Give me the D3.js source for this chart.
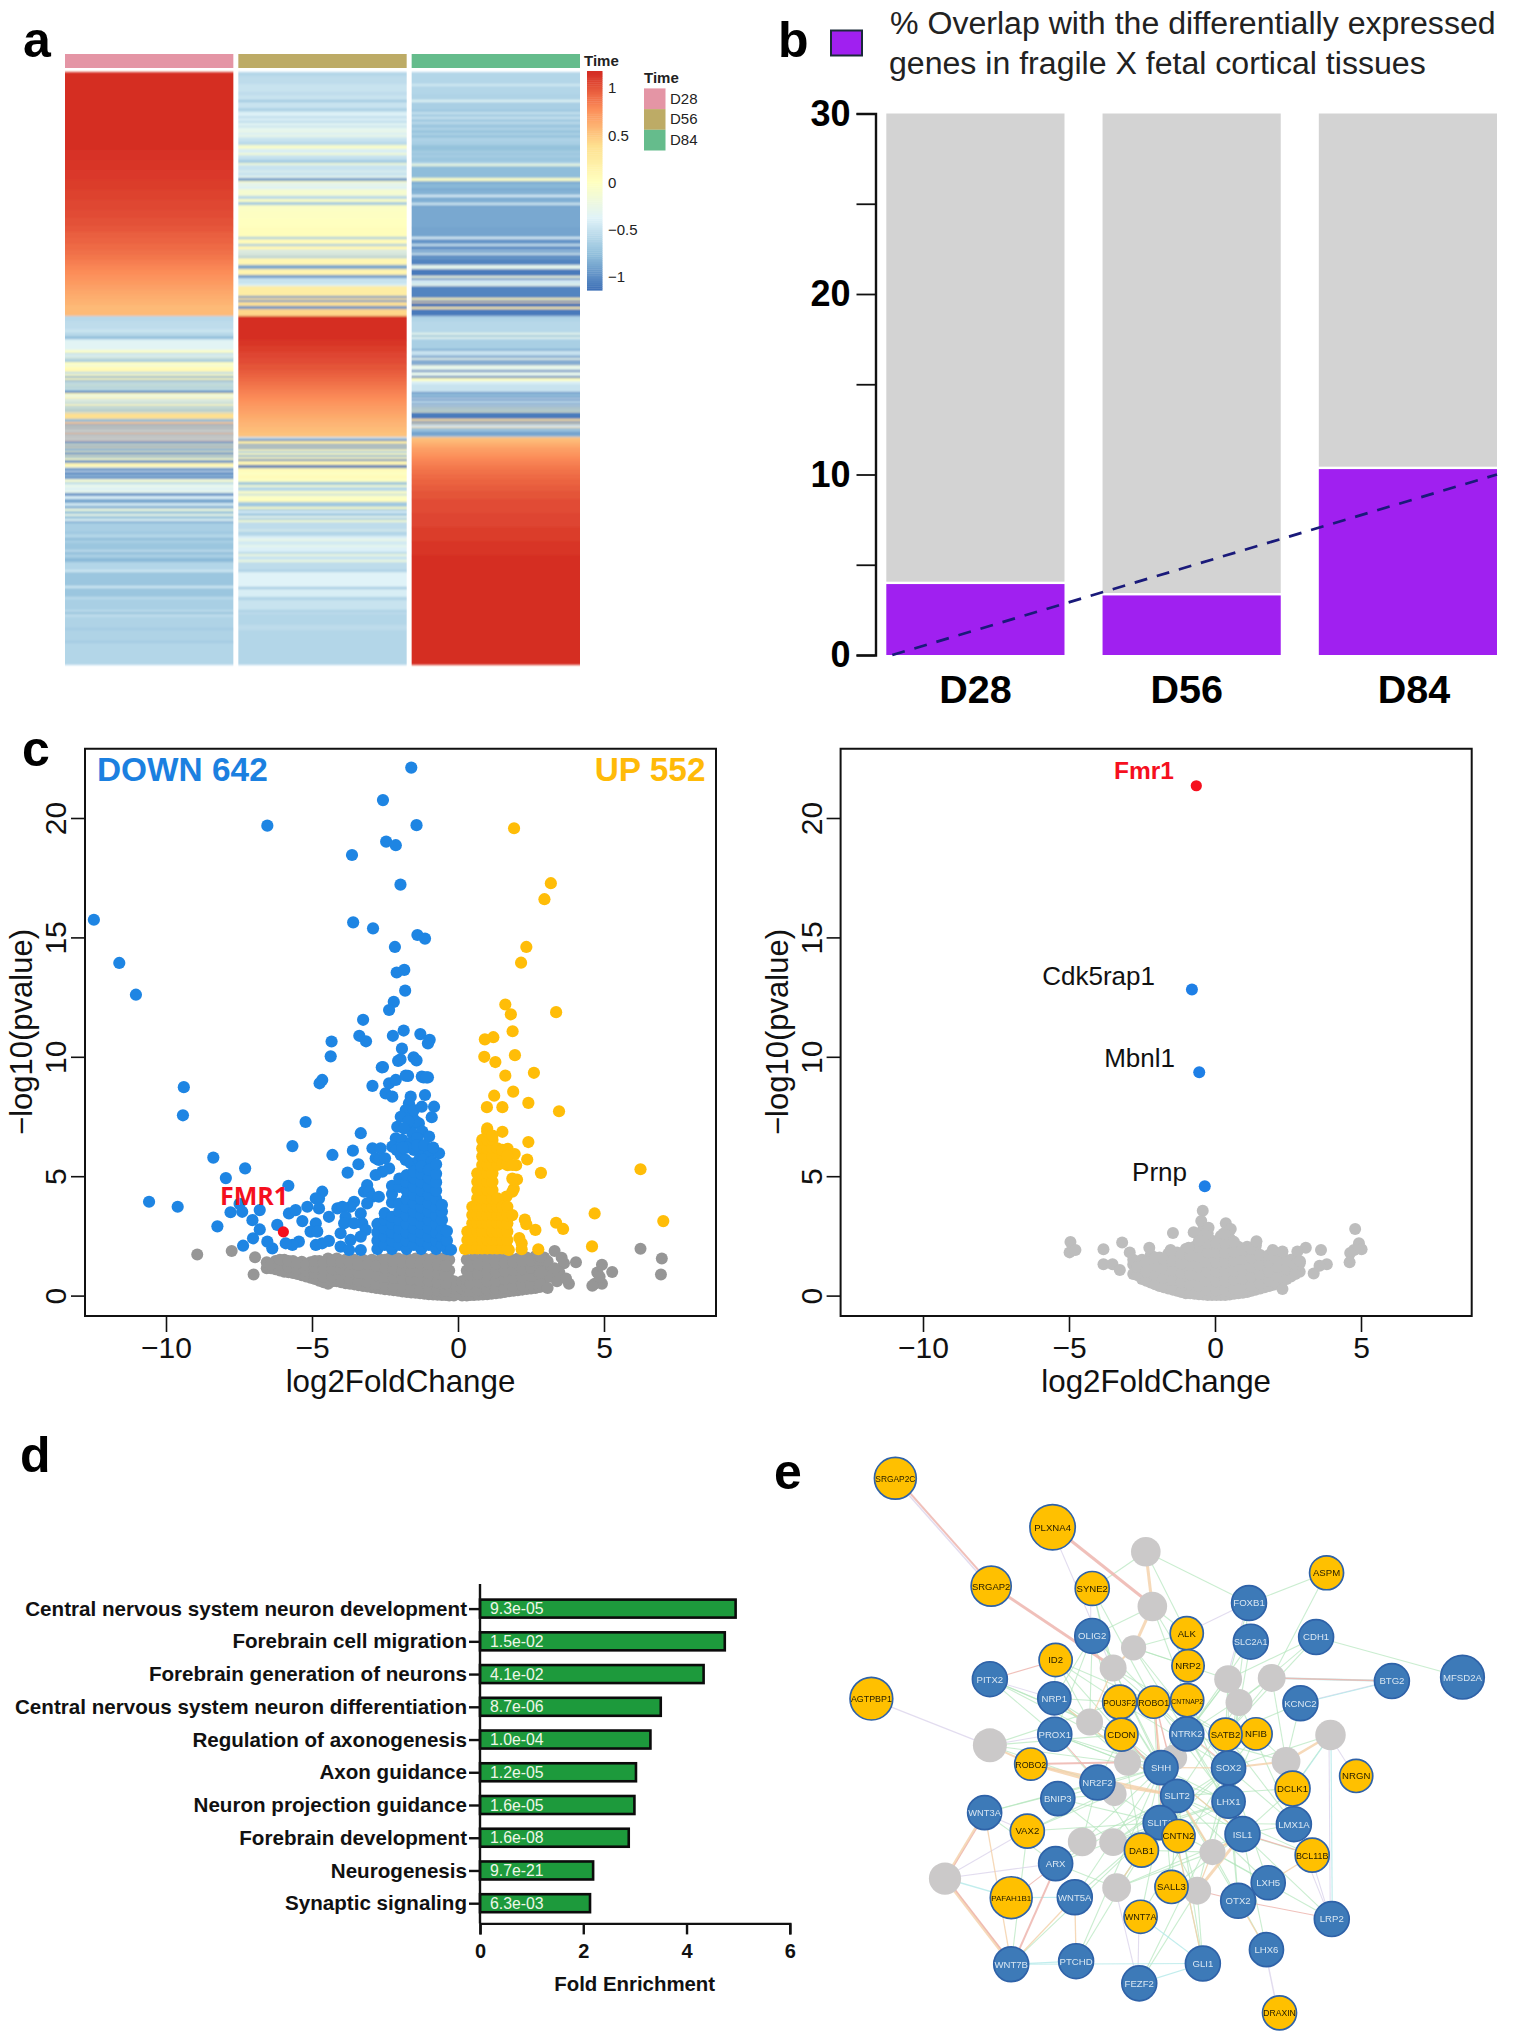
<!DOCTYPE html>
<html><head><meta charset="utf-8">
<script src="https://cdn.jsdelivr.net/npm/d3@7"></script>
<style>
html,body{margin:0;padding:0;background:#fff}
svg{display:block}
text{font-family:"Liberation Sans",Arial,sans-serif}
</style></head><body>
<svg id="fig" width="1513" height="2040" viewBox="0 0 1513 2040"></svg>
<script>
// ---------- panel a : heat map, runs of [z-score, number of rows] ----------
const times = ["D28","D56","D84"];
const timeColors = ["#e495a5","#bdab66","#65bc8c"];
const heatTicks = [1,0.5,0,-0.5,-1];
const heatRowsTotal = 593;
const clusterStarts = [0,244,365];
const d28A = [[1.15,78],[1.135,10],[1.12,10],[1.105,10],[1.09,10],[1.07,10],[1.05,10],[1.03,8],[1.01,8],[.985,6],[.96,6],[.935,6],[.91,6],[.885,5],[.86,5],[.83,5],[.8,5],[.77,5],[.74,5],[.71,5],[.68,5],[.65,5],[.62,5],[.59,5],[.56,11]];
const d28B = [[-.58,5],[-.55,8],[-.5,4],[-.62,2],[-.5,1],[-.78,3],[-.45,1],[-.35,10],[-.05,3],[-.55,2],[-.3,2],[-.7,1],[-.15,1],[-.7,3],[0,3],[-.3,1],[.03,3],[.1,3],[-.6,2],[.05,2],[-.85,2],[.05,2],[-.85,2],[-.2,1],[-.7,2],[-.1,1],[-.75,2],[-.2,1],[-.7,2],[-1.1,2],[.05,2],[-.3,2],[.1,2],[-.5,2],[.1,1],[-.6,2],[.1,2],[-.7,2],[.05,1],[-.8,2],[.15,1],[-.7,1],[.38,6],[-.8,3],[.5,2],[-.9,2],[.4,1],[-.85,2],[.45,1],[-.7,2],[.5,1],[-.9,1],[.5,1],[-.75,1]];
const d28C = [[.5,1],[-.7,2],[.5,1],[-.95,3],[.1,1],[-.9,2],[.3,1],[-.85,3],[.1,1],[-.95,3],[.1,1],[-.85,2],[0,2],[-1,3],[.1,4],[-.3,1],[-1,3],[-.4,1],[-1.05,3],[-.6,1],[-1,3],[-.3,1],[-.05,2],[-.6,2],[-.3,4],[-.4,2],[-.3,3],[-1,3],[-.4,3],[-.9,4],[-.45,3],[-.9,2],[-.6,1],[-.15,2],[-.75,3],[-.25,2],[-.75,3],[-.35,2],[-.85,2],[-.65,9],[-.72,2],[-.6,4],[-.8,2],[-.65,3],[-.72,7],[-.55,2],[-.8,2],[-.65,4],[-.8,4],[-.6,8],[-.45,2],[-.72,14],[-.45,2],[-.72,9],[-.55,2],[-.65,11],[-.55,2],[-.75,2],[-.55,3],[-.62,11],[-.68,2],[-.62,11],[-.68,2],[-.6,22]];
const d56A = [[-.6,4],[-.55,8],[-.5,8],[-.55,3],[-.5,5],[-.72,2],[-.5,6],[-.58,1],[-.67,2],[-.45,2],[-.38,3],[-.55,2],[-.42,3],[-.55,2],[-.35,3],[-.6,1],[-.33,3],[-.28,3],[-.42,2],[-.25,2],[-.45,1],[-.5,4],[-.58,3],[-.08,4],[-.42,4],[-.12,2],[-.5,4],[-.6,2],[-.72,2],[-.15,2],[-.5,6],[-.3,1],[-.5,4],[-.3,2],[-.95,3],[-.05,2],[-.4,2],[-.1,1],[-.4,3],[-.12,7],[-.6,3],[-.02,3],[-.7,3],[-.04,6],[-.02,8],[0,8],[.03,10],[-.7,2],[.05,5],[-.7,2],[.08,4],[-.5,2],[.06,1],[-.55,2],[.1,1],[-.7,2],[.1,7],[-.9,4],[.13,6],[-.95,3],[-.5,6],[-.4,2],[.22,10],[-1,2],[.32,2],[-1,2],[.35,3],[.38,1],[-1,3],[.42,7]];
const d56B = [[1.15,24],[1.12,6],[1.09,6],[1.06,6],[1.03,6],[1,6],[.97,4],[.94,4],[.91,4],[.88,4],[.85,4],[.82,4],[.79,4],[.76,4],[.73,4],[.7,4],[.67,4],[.64,4],[.61,4],[.58,5],[.55,5],[.52,5]];
const d56C = [[-.5,2],[-1.05,2],[.2,3],[-.95,2],[.15,1],[-.95,2],[.1,2],[-.7,2],[.05,2],[-.85,2],[.05,2],[-1.05,2],[.1,4],[-1.15,3],[.05,4],[-.02,3],[.05,4],[-.02,3],[-.75,3],[-.1,2],[-.6,4],[-.05,3],[-.7,1],[-.1,2],[-.02,3],[.03,2],[-.7,5],[0,2],[-.7,2],[-.4,2],[-.7,3],[-.3,2],[-.7,2],[-.1,2],[-.55,8],[-.3,1],[-.6,5],[-.4,3],[-.25,2],[-.45,4],[-.3,2],[-.4,5],[-.6,2],[-.2,2],[-.5,4],[-.2,2],[-.55,8],[-.65,2],[-.38,15],[-.72,2],[-.42,8],[-.62,3],[-.5,10],[-.65,2],[-.55,2],[-.6,11],[-.55,5],[-.6,35]];
const d84A = [[-.6,12],[-.45,2],[-.6,8],[-.62,6],[-.35,2],[-.65,8],[-.72,2],[-.5,2],[-.67,3],[-.5,2],[-.7,3],[-.55,2],[-.72,4],[-.6,2],[-.74,3],[-.62,2],[-.74,3],[-.6,2],[-.65,5],[-.75,6],[-.65,2],[-.74,2],[-.65,2],[-.72,5],[-.6,2],[-.2,2],[-.78,12],[-.02,3],[-.86,3],[-.8,4],[-.86,3],[-.82,4],[-.4,2],[-.86,3],[-.84,3],[-.45,2],[-.9,2],[-.88,20],[-.9,10],[-.4,2],[-.97,5],[-.5,2],[-1,4],[-.6,1],[-.95,2],[-.5,2],[-1.05,2],[-.95,2],[-1.05,6],[-.3,4],[-1.1,7],[-.2,2],[-1.05,2],[-.4,2],[-.5,2],[-.3,2],[-1.05,12],[.1,2],[-1.1,2],[.3,1],[-1.15,4],[.2,2],[-1.1,7]];
const d84B = [[-.62,5],[-.58,12],[-.3,2],[-.75,2],[-.25,1],[-.4,1],[-.65,10],[-.85,2],[-.45,2],[-.55,3],[-.95,2],[-.3,2],[-1,2],[-.6,1],[-1,2],[-.25,2],[-.3,3],[-1.05,2],[-.3,4],[-1.1,2],[0,3],[-.4,3],[-.5,8],[-1,2],[-.7,2],[-.95,2],[-.4,1],[-1,2],[-.5,2],[-.95,2],[-.3,1],[-.95,2],[-.1,1],[-.9,2],[0,1],[-.95,1],[-1.1,6],[.35,2],[-1.05,2],[.2,1],[-1.1,1],[-.4,2],[.4,1],[-.8,2],[-.6,1],[-.9,5],[-.7,1]];
const d84C = [[.52,2],[.55,2],[.58,2],[.61,2],[.64,2],[.67,2],[.7,3],[.73,3],[.76,3],[.79,3],[.82,4],[.85,4],[.88,5],[.91,5],[.94,6],[.97,6],[1,8],[1.03,14],[1.06,14],[1.09,14],[1.12,14],[1.15,110]];
const heatColumns = [[d28A,d28B,d28C],[d56A,d56B,d56C],[d84A,d84B,d84C]];

// ---------- panel b ----------
const overlapDays = ["D28","D56","D84"];
const overlapPct = [3.93,3.3,10.3];
const overlapTotal = 30;
const overlapTrend = [0,10];

// ---------- panel c, left volcano (log2FC, -log10 p) ----------
const downPoints = [[-1.6,22.11],[-2.57,20.75],[-6.53,19.68],[-1.42,19.7],[-2.46,19.01],[-2.13,18.86],[-3.63,18.45],[-1.97,17.21],[-12.47,15.74],[-3.59,15.63],[-2.91,15.38],[-1.39,15.1],[-1.13,14.95],[-2.16,14.6],[-11.6,13.93],[-2.1,13.53],[-1.84,13.64],[-1.81,12.77],[-11.03,12.6],[-2.2,12.3],[-2.36,11.96],[-3.25,11.55],[-2.23,10.88],[-1.86,11.1],[-1.29,10.95],[-3.38,10.88],[-3.15,10.65],[-4.33,10.64],[-.97,10.71],[-1.03,10.56],[-1.92,10.34],[-4.36,10.02],[-1.97,9.89],[-2.05,9.83],[-1.52,9.98],[-1.42,9.85],[-2.57,9.57],[-1.71,9.2],[-1.18,9.14],[-1.03,9.14],[-9.39,8.73],[-9.42,7.55],[-8.38,5.78],[-7.95,4.92],[-10.58,3.93],[-9.6,3.72],[-8.24,2.9],
[-1.62,8.33],[-1.68,8.05],[-1.79,7.77],[-1.96,7.49],[-1.56,7.49],[-1.51,7.77],[-1.34,7.21],[-1.62,7.07],[-1.56,6.79],[-1.22,6.87],[-.99,6.66],[-2.08,7.07],[-2.13,6.59],[-2.25,6.24],[-1.91,6.52],[-1.62,6.38],[-1.51,6.1],[-1.28,5.96],[-.99,5.96],[-.65,5.96],[-1.96,5.89],[-1.79,5.68],[-1.62,5.54],[-1.34,5.68],[-1.11,5.4],[-2.36,5.33],[-2.59,5.19],[-2.82,5.05],[-2.93,6.17],[-2.65,6.17],[-2.82,5.75],[-2.71,5.68],[-3.11,4.63],[-3.22,4.35],[-3.05,4.35],[-2.93,4.14],[-2.71,4.14],[-3.11,3.86],[-3.56,3.93],[-3.68,3.72],[-4.13,3.65],[-3.96,3.72],[-3.85,3.3],[-3.9,3.03],[-3.33,3.44],[-3.28,3.03],[-3.56,3.03],[-3.16,2.75],[-4.02,2.61],[-3.68,2.33],[-3.33,2.47],[-4.02,2.05],[-3.33,1.91],[-3.73,1.91],[-4.42,3.3],[-4.76,4.07],[-4.65,4.35],[-4.87,4.07],[-4.76,3.65],[-5.16,3.72],[-5.79,3.44],[-5.56,3.58],[-5.33,3.12],[-4.87,3.03],[-5.05,2.68],[-4.82,2.68],[-4.42,2.29],[-4.65,2.19],[-4.87,2.12],[-5.45,2.26],[-5.67,2.12],[-5.9,2.19],[-6.19,2.96],[-6.36,1.98],[-6.53,2.26],[-7.36,2.09],[-7.02,2.4],[-6.79,2.77],[-7.04,3.16],[-6.79,3.58],[-7.39,3.51],[-7.48,3.84],[-7.79,3.49],[-5.81,4.6],[-7.29,5.33],[-5.67,6.26],[-5.22,7.27],[-4.3,5.89],[-3.6,6.07],[-3.41,5.5],[-3.78,5.15],[-3.33,6.8],[-4.65,9.03],[-4.74,8.89],[-2.93,8.78],[-2.48,8.47],[-2.25,8.33],[-2.36,8.89],[-2.13,9.03],[-1.79,9.21],[-1.24,9.17],[-1.08,9.14],[-1.13,8.4],[-2.61,9.56],[-.82,7.91],[-.9,7.47],[-1.24,7.91],
[-1.45,7.3],[-1.7,7.3],[-1.85,7.0],[-1.4,6.6],[-1.75,6.2],[-1.4,6.3],[-1.15,6.3],[-.85,6.2],[-1.2,5.7],[-.9,5.6],[-2.1,6.1],[-1.9,6.2],[-2.5,5.75]];
const downDense = [[-2.76,[1.95,2.3,2.65,3.0]],[-2.51,[2.12,2.47,2.82,3.17,3.45]],[-2.26,[1.95,2.3,2.65,3.0,3.3,3.9,4.25,4.6]],[-2.01,[2.12,2.47,2.82,3.17,3.52,3.85,4.55,4.9]],[-1.76,[1.95,2.3,2.65,3.0,3.35,3.7,4.05,4.4,4.75,5.05]],[-1.51,[2.12,2.47,2.82,3.17,3.52,3.87,4.22,4.57,4.92,5.2]],[-1.26,[1.95,2.3,2.65,3.0,3.35,3.7,4.05,4.4,4.75,5.1,5.4]],[-1.0,[2.12,2.47,2.82,3.17,3.52,3.87,4.22,4.57,4.92,5.27]],[-.75,[1.95,2.3,2.65,3.0,3.35,3.7,4.05,4.4,4.75,5.1,5.5]],[-.55,[2.12,2.47,2.82,3.17,3.52,3.8]],[-.38,[1.95,2.3,2.7]],[-.24,[1.92]]];
const upPoints = [[1.92,19.57],[3.18,17.27],[2.96,16.6],[2.34,14.6],[2.16,13.94],[1.62,12.19],[1.81,11.78],[3.36,11.87],[1.87,11.07],[1.21,10.82],[.92,10.73],[.9,10.0],[1.95,10.07],[1.28,9.78],[2.6,9.33],[1.62,9.21],[1.89,8.54],[1.24,8.37],[2.41,8.07],[.99,7.89],[1.52,7.89],[3.46,7.72],[1.52,6.86],[2.41,6.43],[1.7,6.15],[1.94,5.93],[2.37,5.7],[1.7,5.46],[1.99,5.46],[2.84,5.14],[2.02,4.86],[1.91,4.47],[1.66,4.15],[6.25,5.29],[4.68,3.44],[7.03,3.12],[2.29,3.18],[3.36,3.05],[2.34,2.99],[3.6,2.79],[2.65,2.75],[4.59,2.06],[2.1,2.41],[2.18,2.19],[2.75,1.94],[1.74,1.91],[2.18,1.94]];
const upDense = [[.24,[1.95]],[.32,[1.98,2.33,2.68]],[.49,[1.98,2.33,2.68,3.03,3.37,3.72]],[.66,[1.98,2.33,2.68,3.03,3.37,3.72,4.07,4.42,4.77,5.12]],[.83,[1.98,2.33,2.68,3.03,3.37,3.72,4.07,4.42,4.77,5.12,5.47,5.82,6.17,6.52]],[1.0,[1.98,2.33,2.68,3.03,3.37,3.72,4.07,4.42,4.77,5.12,5.47,5.82,6.17,6.52,6.87,7.0]],[1.18,[1.98,2.33,2.68,3.03,3.37,3.72,4.07,4.42,4.77,5.12,5.47,5.82,6.17,6.52,6.7]],[1.35,[1.98,2.33,2.68,3.03,3.37,3.72,4.07,5.47,5.82,6.17]],[1.52,[1.98,2.33,2.68,3.03,3.37,3.72,5.55,5.95,6.1]],[1.69,[1.98,2.33,2.68,3.03,3.37,3.72,5.55,5.85]],[1.86,[3.37,4.35,4.9,5.47]]];
const grayDense = [[-6.55,[1.15,1.4]],[-6.25,[1.1,1.45]],[-5.95,[1.0,1.35,1.5]],[-5.65,[.95,1.3,1.45]],[-5.35,[.85,1.2,1.42]],[-5.05,[.75,1.1,1.4]],[-4.75,[.62,.95,1.3,1.45]],[-4.45,[.5,.85,1.2,1.55]],[-4.15,[.6,.95,1.3,1.55]],[-3.85,[.52,.85,1.2,1.5]],[-3.55,[.47,.8,1.15,1.5]],[-3.25,[.4,.75,1.1,1.5]],[-2.95,[.35,.7,1.05,1.5]],[-2.65,[.3,.65,1,1.5]],[-2.35,[.25,.6,.95,1.3,1.55]],[-2.05,[.2,.55,.9,1.25,1.55]],[-1.75,[.15,.5,.85,1.2,1.55]],[-1.45,[.12,.47,.82,1.17,1.55]],[-1.15,[.08,.43,.78,1.13,1.55]],[-.85,[.05,.4,.75,1.1,1.55]],[-.55,[.03,.38,.73,1.08,1.55]],[-.3,[0,.35,.7,1.05,1.5]],[-.14,[0,.3,.6]],[.14,[0,.3,.6]],[.3,[0,.35,.7,1.05,1.5]],[.55,[.03,.38,.73,1.08,1.55]],[.85,[.05,.4,.75,1.1,1.55]],[1.15,[.08,.43,.78,1.13,1.55]],[1.45,[.12,.47,.82,1.17,1.55]],[1.75,[.18,.5,.85,1.2,1.55]],[2.05,[.22,.55,.9,1.25,1.55]],[2.35,[.28,.6,.95,1.3,1.6]],[2.65,[.32,.65,1,1.35,1.65]],[2.95,[.4,.72,1.05,1.4,1.6]],
[-6.4,[1.15,1.3]],[-6.1,[1.05,1.3,1.5]],[-5.8,[.98,1.2,1.45]],[-5.5,[.9,1.1,1.35]],[-5.2,[.8,1.05,1.3]],[-4.9,[.7,.95,1.2,1.45]],[-4.6,[.56,.8,1.1,1.4]],[-4.3,[.6,.8,1.1,1.45]],[-4,[.56,.78,1.1,1.4]],[-3.7,[.5,.68,1.0,1.35]],[-3.4,[.43,.62,.95,1.3]],[-3.1,[.38,.55,.9,1.3]],[-2.8,[.32,.5,.85,1.25]],[-2.5,[.27,.45,.8,1.15,1.5]],[-2.2,[.22,.4,.75,1.1,1.45]],[-1.9,[.17,.35,.7,1.05,1.4]],[-1.6,[.13,.32,.68,1.02,1.38]],[-1.3,[.1,.28,.62,.98,1.35]],[-1,[.06,.25,.6,.95,1.32]],[-.7,[.04,.22,.56,.9,1.3]],[-.42,[.02,.2,.52,.88,1.25]],[.42,[.02,.2,.52,.88,1.25]],[.7,[.04,.22,.56,.9,1.3]],[1,[.06,.25,.6,.95,1.32]],[1.3,[.1,.28,.62,.98,1.35]],[1.6,[.15,.32,.68,1.02,1.38]],[1.9,[.2,.38,.72,1.05,1.4]],[2.2,[.25,.42,.78,1.1,1.45]],[2.5,[.3,.48,.82,1.18,1.45]],[2.8,[.36,.55,.9,1.22,1.5]]];
const grayPoints = [[-8.93,1.72],[-7.75,1.87],[-6.95,1.61],[-7.0,.88],[6.25,1.96],[6.98,1.55],[6.95,.88],[3.31,1.87],[4.93,1.29],[4.77,.97],[5.28,.99],[4.68,.5],[4.93,.5],[4.6,.41],[4.85,.79],[4.04,1.4],[3.63,1.35],[3.55,1.59],[3.07,1.44],[2.83,1.63],[3.8,.5],[3.07,.32],[3.47,.97],[3.15,.79],[3.39,.6],[2.83,.97],[3.7,.72],[3.3,1.15]];
const fmr1Left = [-5.98,2.67];

// ---------- panel c, right volcano ----------
const rightGrayPoints = [[-.42,3.55],[-.47,3.12],[.37,3.03],[.54,2.79],[-1.44,2.62],[-.22,2.84],[-.73,2.65],[4.8,2.79],[-4.95,2.24],[-3.18,2.22],[-3.82,1.94],[-4.98,1.81],[-4.78,1.91],[-2.92,1.81],[-2.25,2.0],[-1.52,1.91],[-.9,2.0],[1.42,2.28],[1.98,1.91],[2.31,1.85],[3.11,2.0],[3.63,1.91],[4.93,2.19],[5.02,1.94],[4.76,1.91],[4.63,1.78],[4.61,1.4],[3.83,1.31],[3.38,.93],[3.58,1.25],[2.82,1.85],[2.91,1.44],[2.31,.28],[-3.82,1.31],[-3.51,1.31],[-3.26,1.07],[-.35,2.55],[-.55,2.3],[.3,2.6],[.65,2.25]];
const rightGrayDense = [[-2.8,[.9,1.3,1.5]],[-2.5,[.7,1.1,1.5]],[-2.2,[.55,.95,1.35,1.7]],[-1.9,[.4,.8,1.2,1.6]],[-1.6,[.3,.7,1.1,1.5,1.75]],[-1.3,[.2,.6,1,1.4,1.8]],[-1,[.1,.5,.9,1.3,1.7,1.95]],[-.7,[.08,.45,.85,1.25,1.65,2.05]],[-.4,[.05,.4,.8,1.2,1.6,2,2.4,2.8]],[-.1,[.03,.4,.8,1.2,1.6,2,2.3]],[.2,[.03,.4,.8,1.2,1.6,2,2.5]],[.5,[.05,.4,.8,1.2,1.6,2,2.4]],[.8,[.1,.5,.9,1.3,1.7,2.05]],[1.1,[.15,.55,.95,1.35,1.75,2.05]],[1.4,[.25,.65,1.05,1.45,1.85,2.1]],[1.7,[.35,.75,1.15,1.55]],[2,[.45,.85,1.25,1.6,1.8]],[2.3,[.6,1,1.4,1.65]],[2.6,[.8,1.2,1.5]],[2.9,[1,1.35]],
[-2.65,[.85,1.2]],[-2.35,[.62,1,1.4]],[-2.05,[.48,.85,1.25,1.6]],[-1.75,[.35,.75,1.15,1.55]],[-1.45,[.25,.65,1.05,1.45]],[-1.15,[.15,.55,.95,1.35,1.75]],[-.85,[.1,.48,.88,1.28,1.68]],[-.55,[.06,.42,.82,1.22,1.62,2.02]],[-.25,[.03,.22,.6,1,1.4,1.8,2.2,2.6]],[.05,[.02,.22,.6,1,1.4,1.8,2.2]],[.35,[.03,.22,.6,1,1.4,1.8,2.2]],[.65,[.08,.28,.65,1.05,1.45,1.85]],[.95,[.12,.33,.72,1.12,1.52,1.9]],[1.25,[.2,.42,.8,1.2,1.6,1.95]],[1.55,[.3,.5,.9,1.3,1.7]],[1.85,[.4,.62,1,1.4,1.7]],[2.15,[.5,.8,1.2,1.5]],[2.45,[.7,1.1,1.45]],[2.75,[.9,1.3]]];
const rightBlue = [[-.79,12.82],[-.54,9.35],[-.35,4.58]];
const rightRed = [-.64,21.35];

// ---------- panel d ----------
const goTerms = ["Central nervous system neuron development","Forebrain cell migration","Forebrain generation of neurons","Central nervous system neuron differentiation","Regulation of axonogenesis","Axon guidance","Neuron projection guidance","Forebrain development","Neurogenesis","Synaptic signaling"];
const goEnrichment = [4.97,4.76,4.35,3.52,3.32,3.04,3.01,2.9,2.21,2.15];
const goPvalues = ["9.3e-05","1.5e-02","4.1e-02","8.7e-06","1.0e-04","1.2e-05","1.6e-05","1.6e-08","9.7e-21","6.3e-03"];

// ---------- panel e : network, nodes [name, layoutX, layoutY, size] ----------
const grayNodes = [["G1",725,292,34],["G2",740,435,34],["G3",697,543,29],["G4",650,596,31],["G5",914,625,32],["G6",1014,622,32],["G7",939,686,31],["G8",596,737,31],["G9",367,798,39],["G10",1149,771,35],["G11",683,842,31],["G12",1047,840,33],["G13",790,830,30],["G14",653,925,28],["G15",579,1050,33],["G16",650,1051,32],["G17",878,1077,30],["G18",264,1146,37],["G19",658,1170,33],["G20",843,1178,32]];
const blueNodes = [["FOXB1",962,426,40],["OLIG2",602,512,40],["SLC2A1",966,527,40],["CDH1",1116,515,40],["PITX2",367,625,40],["BTG2",1290,630,40],["MFSD2A",1452,620,50],["NRP1",515,675,38],["KCNC2",1080,688,40],["PROX1",516,769,39],["NTRK2",819,768,39],["SHH",760,856,39],["SOX2",915,857,39],["NR2F2",614,895,40],["BNIP3",523,937,39],["SLIT2",797,930,38],["LHX1",915,945,38],["WNT3A",355,974,39],["SLIT1",758,1000,39],["LMX1A",1065,1004,40],["ISL1",947,1030,40],["ARX",518,1107,39],["LXH5",1006,1157,39],["OTX2",937,1204,40],["WNT5A",562,1195,40],["LRP2",1152,1252,40],["LHX6",1002,1332,39],["PTCHD",565,1362,40],["WNT7B",416,1370,40],["GLI1",856,1368,40],["FEZF2",710,1420,40]];
const yellowNodes = [["SRGAP2C",150,100,48],["PLXNA4",511,228,52],["SRGAP2",370,382,46],["SYNE2",602,388,39],["ASPM",1140,347,39],["ALK",819,505,38],["ID2",518,575,38],["NRP2",822,590,37],["AGTPBP1",95,676,49],["POU3F2",665,685,39],["CNTNAP2",820,680,38],["ROBO1",743,685,37],["CDON",669,770,38],["NFIB",978,768,37],["SATB2",908,770,38],["ROBO2",461,847,37],["NRGN",1208,878,38],["DCLK1",1062,911,40],["VAX2",453,1022,39],["BCL11B",1107,1085,39],["CNTN2",800,1035,38],["DAB1",715,1072,39],["SALL3",784,1168,38],["PAFAH1B1",416,1196,48],["WNT7A",713,1246,38],["DRAXIN",1032,1497,39]];
const greenEdges = "MFSD2A CDH1,G1 SYNE2,G1 ALK,G1 FOXB1,G2 ALK,G2 NRP2,G2 OLIG2,G2 CNTNAP2,SYNE2 G4,SYNE2 POU3F2,SYNE2 ROBO1,OLIG2 NRP1,OLIG2 PROX1,OLIG2 G8,OLIG2 CDON,OLIG2 NTRK2,ID2 POU3F2,ID2 G8,ID2 NRP1,ID2 CDON,ID2 ROBO1,NRP1 POU3F2,NRP1 G11,NRP1 SHH,NRP1 SLIT2,PROX1 G11,PROX1 SHH,PROX1 NR2F2,PROX1 LHX1,PITX2 PROX1,PITX2 G8,PITX2 CDON,PITX2 SHH,G9 CDON,G9 POU3F2,G9 NR2F2,G9 SHH,G3 NRP2,G3 ALK,G3 G5,G3 NTRK2,G3 SOX2,G4 NTRK2,G4 SATB2,G4 SHH,G4 SLIT2,POU3F2 SHH,POU3F2 SOX2,POU3F2 SLIT2,ROBO1 SLIT1,ROBO1 LHX1,ROBO1 SATB2,CNTNAP2 SOX2,CNTNAP2 SHH,CNTNAP2 ISL1,CDON SHH,CDON NR2F2,CDON SLIT2,CDON DAB1,NTRK2 SHH,NTRK2 SOX2,NTRK2 LHX1,NTRK2 ISL1,NTRK2 G12,SATB2 SOX2,SATB2 LHX1,SATB2 ISL1,SATB2 LMX1A,NFIB SOX2,NFIB LHX1,NFIB G12,G5 SOX2,G5 SATB2,G5 NTRK2,G5 SHH,G6 SATB2,G6 G12,G6 NTRK2,G7 SOX2,G7 SLIT2,G7 LMX1A,SLC2A1 NTRK2,SLC2A1 SOX2,CDH1 G7,CDH1 SATB2,CDH1 G5,KCNC2 SATB2,KCNC2 G12,FOXB1 G5,FOXB1 SOX2,ASPM G6,ASPM FOXB1,G10 SOX2,G10 DCLK1,SHH SLIT2,SHH LHX1,SHH ISL1,SHH DAB1,SOX2 ISL1,SOX2 LHX1,SOX2 SLIT1,SOX2 DAB1,SOX2 LMX1A,NR2F2 SLIT1,NR2F2 DAB1,NR2F2 G15,BNIP3 SHH,BNIP3 SLIT1,BNIP3 G14,BNIP3 G16,SLIT2 CNTN2,SLIT2 ISL1,SLIT2 G17,SLIT2 G19,LHX1 SLIT1,LHX1 DAB1,LHX1 G16,LHX1 OTX2,DCLK1 ISL1,DCLK1 SLIT2,LMX1A ISL1,LMX1A SLIT1,VAX2 SLIT1,VAX2 SHH,VAX2 G14,WNT3A SHH,WNT3A NR2F2,WNT3A ARX,ARX SLIT1,ARX G15,ARX G19,ARX SLIT2,G15 SHH,G15 SLIT2,G16 SLIT2,G16 SOX2,G17 SOX2,G17 ISL1,G17 DAB1,G19 SLIT1,G19 ISL1,G19 G17,SALL3 ISL1,SALL3 SHH,SALL3 SLIT2,WNT5A SLIT1,WNT5A SHH,WNT7A SLIT1,WNT7A SOX2,OTX2 SLIT2,OTX2 SOX2,G20 SHH,G20 SOX2,G20 SLIT1,BCL11B ISL1,BCL11B SLIT2,LXH5 SOX2,LXH5 SLIT2,LXH5 SLIT1,GLI1 SHH,GLI1 SLIT2,GLI1 G20,FEZF2 LHX1,FEZF2 G20,PTCHD SHH,PTCHD SLIT1,WNT7B VAX2,WNT7B SLIT1,LHX6 SOX2,LHX6 G17,LRP2 ISL1,LRP2 G17";
const orangeEdges = "G1 G2 3,G2 G3 3,G3 G4 2,G4 G8,G9 ROBO2 2,ROBO2 NR2F2 2.5,ROBO2 SLIT2 2.5,NR2F2 SLIT2 2.5,ROBO1 SHH 2,NRP1 SLIT2,G18 WNT3A 2.5,G18 WNT7B 3,WNT3A WNT7B,WNT5A WNT7B,SALL3 G20 2,G20 ISL1 3,ISL1 G17 2.5,G17 SHH 2,SHH ISL1,SHH SOX2,G12 SOX2 2,G12 G10 2.5,LXH5 BCL11B,PTCHD WNT5A,GLI1 SHH,G19 SLIT1,OTX2 LHX6,G20 G17";
const pinkEdges = "SRGAP2C SRGAP2 2,PLXNA4 G2 3,SRGAP2 G4 3,WNT7B G18 1.5,WNT7B ARX 2,WNT3A G18,PITX2 ID2,BTG2 G6 1.5,ROBO2 G11 2,PROX1 NR2F2,CDON SLIT2 1.5,NTRK2 SOX2,ROBO1 SLIT2 1.5,ROBO1 SLIT1,OTX2 LRP2,PAFAH1B1 ARX,BCL11B ISL1,G20 OTX2";
const purpleEdges = "SRGAP2C SRGAP2 1.5,PITX2 NRP1,AGTPBP1 G9 1.2,PLXNA4 G4,G18 ARX 1.2,G18 VAX2,NRGN G10,BCL11B LRP2,DRAXIN LHX6 1.5,KCNC2 BTG2,G5 FOXB1,SYNE2 OLIG2,G10 LRP2,LMX1A LRP2,FEZF2 WNT7A,G9 PROX1,WNT3A VAX2,ALK FOXB1,FEZF2 G19";
const cyanEdges = "BTG2 G6 2,BTG2 KCNC2,WNT7B GLI1,PAFAH1B1 G18 1.5,G10 LRP2 1.2,FEZF2 GLI1,PTCHD WNT7B,WNT5A PAFAH1B1,GLI1 WNT7A,G10 DCLK1";

// =============== drawing ===============
const svg = d3.select("#fig");
svg.append("rect").attr("width",1513).attr("height",2040).attr("fill","#fff");
const defs = svg.append("defs");
defs.append("filter").attr("id","soft").attr("x","-2%").attr("y","-2%").attr("width","104%").attr("height","104%")
  .append("feGaussianBlur").attr("stdDeviation",0.55);
defs.append("filter").attr("id","rows").attr("x","-2%").attr("y","-2%").attr("width","104%").attr("height","104%")
  .append("feGaussianBlur").attr("stdDeviation","0.4 0.95");

function label(t,x,y,size,opts={}){
  const s = svg.append("text").attr("x",x).attr("y",y).attr("font-size",size).attr("fill",opts.fill||"#000")
    .attr("font-weight",opts.weight||"normal").attr("text-anchor",opts.anchor||"start").text(t);
  if(opts.family) s.style("font-family",opts.family);
  if(opts.rotate!==undefined) s.attr("transform",`rotate(${opts.rotate},${x},${y})`);
  return s;
}
[["a",23,57],["b",778,57],["c",22,766],["d",20,1472],["e",774,1489]].forEach(d=>label(d[0],d[1],d[2],50,{weight:"bold"}));

// ---- a ----
const heatColor = d3.scaleLinear().domain([-1.15,-.77,-.38,0,.38,.77,1.15])
  .range(["#3d6fb6","#91bfdb","#e0f3f8","#ffffbf","#fee090","#fc8d59","#d52e24"]).clamp(true);
const colX = d3.scaleBand().domain(times).range([65,580]).paddingInner(.0288);
const rowY = d3.scaleLinear().domain([0,heatRowsTotal]).range([72,665]);
svg.selectAll(".ann").data(times).join("rect").attr("x",d=>colX(d)).attr("y",54).attr("width",colX.bandwidth()).attr("height",14)
  .attr("fill",(d,i)=>timeColors[i]);
const heatG = svg.append("g").attr("filter","url(#rows)");
times.forEach((t,c)=>{
  heatColumns[c].forEach((runs,k)=>{
    let r = clusterStarts[k];
    const end = k<2 ? clusterStarts[k+1] : heatRowsTotal;
    runs.forEach(([v,n])=>{
      const e = Math.min(r+n,end);
      if(e>r) heatG.append("rect").attr("x",colX(t)).attr("width",colX.bandwidth())
        .attr("y",rowY(r)).attr("height",rowY(e)-rowY(r)+(e<heatRowsTotal?.3:0)).attr("fill",heatColor(v));
      r = e;
    });
    if(r<end) heatG.append("rect").attr("x",colX(t)).attr("width",colX.bandwidth())
        .attr("y",rowY(r)).attr("height",rowY(end)-rowY(r)).attr("fill",heatColor(runs[runs.length-1][0]));
  });
});
const barY = d3.scaleLinear().domain([-1,1]).range([277,88]);
d3.range(-1.14,1.17,.02).forEach(v=>{
  svg.append("rect").attr("x",587).attr("width",15.5).attr("y",barY(v+.02)).attr("height",barY(v)-barY(v+.02)+.4).attr("fill",heatColor(v));
});
const barAxis = svg.append("g").attr("transform","translate(602,0)")
  .call(d3.axisRight(barY).tickValues(heatTicks).tickSize(0).tickPadding(6).tickFormat(d3.format("~g")));
barAxis.select(".domain").remove();
barAxis.selectAll("text").attr("font-size",15).attr("fill","#222").style("font-family",'"Liberation Sans"');
label("Time",584,66,15,{weight:"bold",fill:"#222"});
label("Time",644,83,15,{weight:"bold",fill:"#222"});
times.forEach((t,i)=>{
  svg.append("rect").attr("x",644).attr("y",88.4+i*20.7).attr("width",21.5).attr("height",20.7).attr("fill",timeColors[i]);
  label(t,670,103.5+i*20.7,15,{fill:"#222"});
});

// ---- b ----
const bx = d3.scaleBand().domain(overlapDays).range([886.3,1497]).paddingInner(.176);
const by = d3.scaleLinear().domain([0,overlapTotal]).range([655,113.5]);
svg.append("rect").attr("x",831).attr("y",30.5).attr("width",31).attr("height",25).attr("fill","#a020f0").attr("stroke","#1a2a3a").attr("stroke-width",2);
label("% Overlap with the differentially expressed",890,33.5,32.1,{fill:"#222"});
label("genes in fragile X fetal cortical tissues",889,74,32.1,{fill:"#222"});
overlapDays.forEach((d,i)=>{
  svg.append("rect").attr("x",bx(d)).attr("width",bx.bandwidth()).attr("y",by(overlapTotal)).attr("height",by(overlapPct[i])-by(overlapTotal)-2.4).attr("fill","#d3d3d3");
  svg.append("rect").attr("x",bx(d)).attr("width",bx.bandwidth()).attr("y",by(overlapPct[i])).attr("height",by(0)-by(overlapPct[i])).attr("fill","#a020f0");
});
const byAxis = svg.append("g").attr("transform","translate(875.5,0)")
  .call(d3.axisLeft(by).tickValues(d3.range(0,31,5)).tickSize(19).tickPadding(6).tickFormat(d=>d%10?"":d));
byAxis.select(".domain").attr("stroke","#111").attr("stroke-width",2.4);
byAxis.selectAll("line").attr("stroke","#111").attr("stroke-width",1.8);
byAxis.selectAll("text").attr("font-size",36).attr("font-weight","bold").attr("fill","#000").style("font-family",'"Liberation Sans"');
svg.append("line").attr("x1",bx("D28")+6).attr("y1",by(overlapTrend[0])).attr("x2",bx("D84")+bx.bandwidth()).attr("y2",by(overlapTrend[1]))
  .attr("stroke","#1a1a7a").attr("stroke-width",2.7).attr("stroke-dasharray","13 10");
const dayNudge=[0,-5,6];
overlapDays.forEach((d,i)=>label(d,bx(d)+bx.bandwidth()/2+dayNudge[i],703,39.5,{weight:"bold",anchor:"middle"}));

// ---- c ----
function volcano(left,right,x0){
  const x = d3.scaleLinear().domain([-10,5]).range([x0-292,x0+146]);
  const y = d3.scaleLinear().domain([0,20]).range([1295.6,818]);
  const top=748.75,bot=1316;
  const ax = svg.append("g").attr("transform",`translate(0,${bot})`)
    .call(d3.axisBottom(x).tickValues([-10,-5,0,5]).tickSize(16).tickPadding(5).tickFormat(d3.format("d")));
  ax.select(".domain").remove();
  ax.selectAll("line").attr("stroke","#111").attr("stroke-width",1.6);
  ax.selectAll("text").attr("font-size",30).attr("fill","#111").style("font-family",'"Liberation Sans"');
  const ay = svg.append("g").attr("transform",`translate(${left},0)`)
    .call(d3.axisLeft(y).tickValues([0,5,10,15,20]).tickSize(14).tickPadding(4).tickFormat(d3.format("d")));
  ay.select(".domain").remove();
  ay.selectAll("line").attr("stroke","#111").attr("stroke-width",1.6);
  ay.selectAll("text").attr("font-size",30).attr("fill","#111").attr("text-anchor","middle").attr("dy",0)
    .attr("x",-19).attr("transform","rotate(-90,-19,0)").attr("y",0).style("font-family",'"Liberation Sans"');
  label("log2FoldChange",(left+right)/2,1392,31.3,{anchor:"middle",fill:"#111"});
  label("−log10(pvalue)",left-53,1032,31,{anchor:"middle",rotate:-90,fill:"#111"});
  const g = svg.append("g");
  return {x,y,g,box(){svg.append("rect").attr("x",left).attr("y",top).attr("width",right-left).attr("height",bot-top).attr("fill","none").attr("stroke","#111").attr("stroke-width",2);}};
}
function dots(v,pts,col,r){
  v.g.selectAll(null).data(pts).join("circle").attr("cx",d=>v.x(d[0])).attr("cy",d=>v.y(d[1])).attr("r",r).attr("fill",col);
}
const expand = cols => cols.flatMap(([x,ys])=>ys.map(y=>[x,y]));
const vL = volcano(85,716,458);
dots(vL,expand(grayDense).concat(grayPoints),"#969696",6);
dots(vL,upPoints.concat(expand(upDense)),"#ffbd08",6.1);
dots(vL,downPoints.concat(expand(downDense)),"#1e85e3",6.1);
dots(vL,[fmr1Left],"#f5101e",5.6);
vL.box();
label("DOWN 642",97,781,33.4,{fill:"#1b80e0",weight:"bold"});
label("UP 552",705.5,781,33.4,{fill:"#ffba08",weight:"bold",anchor:"end"});
label("FMR1",220,1205,25,{fill:"#f5101e",weight:"bold",family:'"Open Sans"'});

const vR = volcano(840.6,1471.7,1215);
dots(vR,expand(rightGrayDense).concat(rightGrayPoints),"#bdbdbd",6);
dots(vR,rightBlue,"#1e7fe6",6);
dots(vR,[rightRed],"#f5101e",5.6);
vR.box();
label("Fmr1",1174,779,24.5,{fill:"#f5101e",weight:"bold",anchor:"end"});
label("Cdk5rap1",1155,984.5,26,{anchor:"end",fill:"#111"});
label("Mbnl1",1175,1067,26,{anchor:"end",fill:"#111"});
label("Prnp",1187,1181,26,{anchor:"end",fill:"#111"});

// ---- d ----
const gx = d3.scaleLinear().domain([0,6]).range([480,789.8]);
const gy = d3.scalePoint().domain(goTerms).range([1608.6,1903.2]);
goTerms.forEach((t,i)=>{
  svg.append("rect").attr("x",gx(0)).attr("y",gy(t)-9).attr("width",gx(goEnrichment[i])-gx(0)-1).attr("height",18)
    .attr("fill","#1d9a3c").attr("stroke","#0b0b0b").attr("stroke-width",2.6);
  label(goPvalues[i],490,gy(t)+5.6,15.8,{fill:"#eef7e8"});
});
const gAxisY = svg.append("g").attr("transform","translate(480,0)")
  .call(d3.axisLeft(gy).tickSize(11).tickPadding(2));
gAxisY.select(".domain").remove();
gAxisY.selectAll("line").attr("stroke","#111").attr("stroke-width",2.4);
gAxisY.selectAll("text").attr("font-size",20.6).attr("font-weight","bold").attr("fill","#111").style("font-family",'"Liberation Sans"');
svg.append("line").attr("x1",480).attr("x2",480).attr("y1",1584).attr("y2",1923.4).attr("stroke","#111").attr("stroke-width",2.4);
const gAxisX = svg.append("g").attr("transform","translate(0,1923.4)")
  .call(d3.axisBottom(gx).tickValues([0,2,4,6]).tickSize(11).tickPadding(9).tickFormat(d3.format("d")));
gAxisX.select(".domain").attr("stroke","#111").attr("stroke-width",2.4);
gAxisX.selectAll("line").attr("stroke","#111").attr("stroke-width",2.4);
gAxisX.selectAll("text").attr("font-size",20).attr("font-weight","bold").attr("fill","#111").style("font-family",'"Liberation Sans"');
label("Fold Enrichment",634.7,1990.5,20.4,{weight:"bold",anchor:"middle",fill:"#111"});

// ---- e ----
const nx = d3.scaleLinear().domain([0,1568]).range([830,1513]);
const ny = d3.scaleLinear().domain([0,1568]).range([1440,2040]);
const nr = d=>nx(d)-nx(0);
const nodeIndex = new Map(grayNodes.concat(blueNodes,yellowNodes).map(n=>[n[0],n]));
const netG = svg.append("g").attr("filter","url(#soft)");
function edges(str,col,base,op,dx){
  const gg = netG.append("g").attr("transform",`translate(${dx},0)`);
  str.split(",").forEach(s=>{
    const [a,b,w] = s.trim().split(" ");
    const A=nodeIndex.get(a),B=nodeIndex.get(b);
    if(!A||!B) return;
    gg.append("line").attr("x1",nx(A[1])).attr("y1",ny(A[2])).attr("x2",nx(B[1])).attr("y2",ny(B[2]))
      .attr("stroke",col).attr("stroke-width",w?+w:base).attr("stroke-opacity",op);
  });
}
edges(greenEdges,"#b4e6bc",1.1,.7,0);
edges(purpleEdges,"#d6cde8",1.1,.7,-1.5);
edges(cyanEdges,"#b2e8e8",1.1,.8,0.5);
edges(orangeEdges,"#f4d0a8",1.3,.8,0);
edges(pinkEdges,"#edb5ae",1.1,.85,1.5);
function nodes(list,fill,stroke,txt){
  list.forEach(n=>{
    const g = netG.append("g");
    const r = nr(n[3]);
    g.append("circle").attr("cx",nx(n[1])).attr("cy",ny(n[2])).attr("r",r).attr("fill",fill)
      .attr("stroke",stroke||"none").attr("stroke-width",stroke?1.7:0);
    if(txt){
      const t = g.append("text").attr("x",nx(n[1])).attr("y",ny(n[2])+3.4).attr("text-anchor","middle")
        .attr("font-size",9.6).attr("fill",txt).text(n[0]);
      const w = t.node().getComputedTextLength();
      if(w>2*r*.96) t.attr("font-size",9.6*(2*r*.96)/w);
    }
  });
}
nodes(grayNodes,"#cbc9c9",null,null);
nodes(blueNodes,"#3d7ab8","#2f62a8","#d8e6f2");
nodes(yellowNodes,"#ffc000","#2f62a8","#2a2000");
</script>
</body></html>
